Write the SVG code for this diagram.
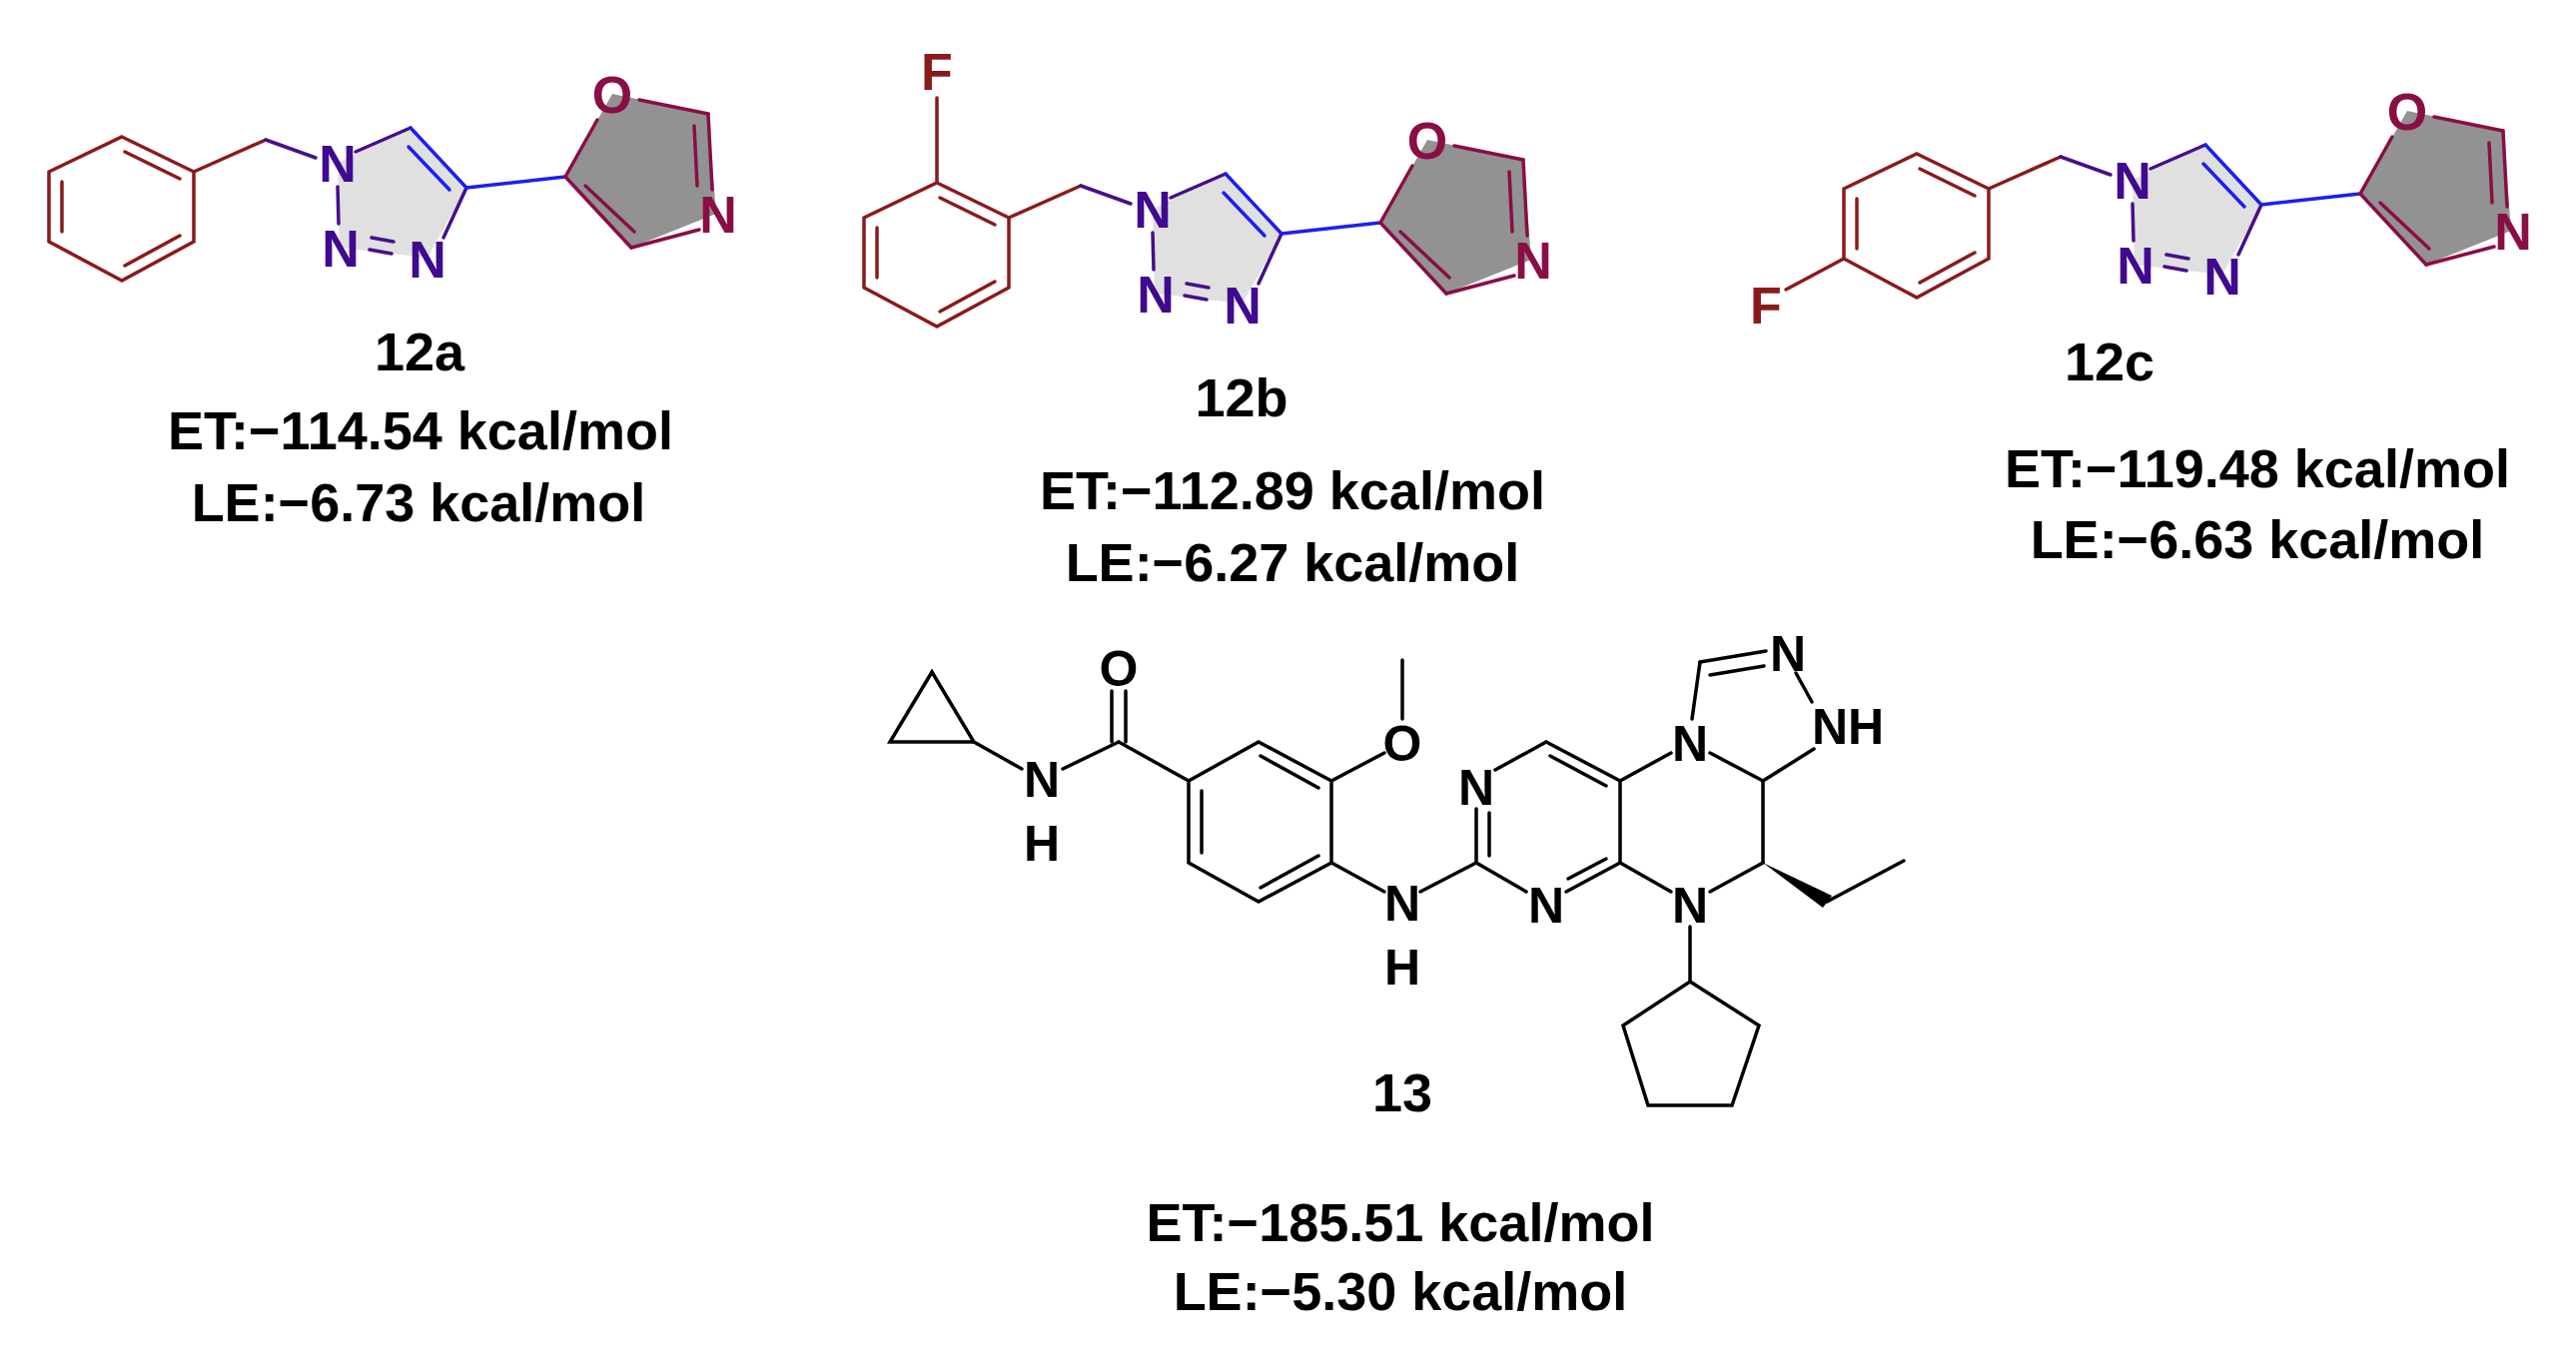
<svg xmlns="http://www.w3.org/2000/svg" xmlns:xlink="http://www.w3.org/1999/xlink" width="2579" height="1360" viewBox="0 0 2579 1360">
<style>
.r{stroke:#8B1A1A;stroke-width:3.5;fill:none;stroke-linecap:round}
.p{stroke:#45108C;stroke-width:3.5;fill:none;stroke-linecap:round}
.b{stroke:#1E1EF0;stroke-width:3.5;fill:none;stroke-linecap:round}
.m{stroke:#8B0D45;stroke-width:3.5;fill:none;stroke-linecap:round}
.k{stroke:#000;stroke-width:3.5;fill:none;stroke-linecap:round}
.an{font-family:"Liberation Sans",Arial,sans-serif;font-weight:bold;font-size:52px;text-anchor:middle;fill:#3F0A8F}
.ao{font-family:"Liberation Sans",Arial,sans-serif;font-weight:bold;font-size:52px;text-anchor:middle;fill:#8B0D45}
.af{font-family:"Liberation Sans",Arial,sans-serif;font-weight:bold;font-size:52px;text-anchor:middle;fill:#8B1A1A}
.ak{font-family:"Liberation Sans",Arial,sans-serif;font-weight:bold;font-size:50px;text-anchor:middle;fill:#000}
.t{font-family:"Liberation Sans",Arial,sans-serif;font-weight:bold;font-size:54px;text-anchor:middle;fill:#000}
</style>
<defs>
<g id="core12">
<polygon points="338,163 411,128 467,188 428,258 340,248" fill="#E0E0E0"/>
<polygon points="566,177 613,94 709,114 717,214 632,248" fill="#929292"/>
<polygon class="r" points="122,137 194,172 194,242 122,281 49,242 49,172"/>
<line class="r" x1="125" y1="152" x2="180" y2="179"/>
<line class="r" x1="62" y1="182" x2="62" y2="232"/>
<line class="r" x1="125" y1="266" x2="180" y2="236"/>
<line class="r" x1="194" y1="172" x2="266" y2="140"/>
<line class="p" x1="266" y1="140" x2="316" y2="158"/>
<line class="p" x1="356" y1="152" x2="411" y2="128"/>
<line class="b" x1="411" y1="128" x2="467" y2="188"/>
<line class="b" x1="409" y1="147" x2="450" y2="190"/>
<line class="p" x1="467" y1="188" x2="444" y2="238"/>
<line class="p" x1="338" y1="187" x2="339" y2="224"/>
<line class="p" x1="372" y1="238" x2="394" y2="242"/>
<line class="p" x1="370" y1="250" x2="392" y2="254"/>
<line class="b" x1="467" y1="188" x2="566" y2="177"/>
<line class="m" x1="566" y1="177" x2="598" y2="120"/>
<line class="m" x1="640" y1="100" x2="709" y2="114"/>
<line class="m" x1="709" y1="114" x2="713" y2="190"/>
<line class="m" x1="695" y1="126" x2="698" y2="186"/>
<line class="m" x1="700" y1="230" x2="632" y2="248"/>
<line class="m" x1="632" y1="248" x2="566" y2="177"/>
<line class="m" x1="586" y1="186" x2="635" y2="232"/>
<text class="an" x="338" y="182">N</text>
<text class="an" x="341" y="267">N</text>
<text class="an" x="428" y="278">N</text>
<text class="ao" x="613" y="113">O</text>
<text class="ao" x="719" y="233">N</text>
</g>
</defs>
<g id="c12a">
<use xlink:href="#core12"/>
<text class="t" x="420" y="371">12a</text>
<text class="t" x="421" y="450">ET:−114.54 kcal/mol</text>
<text class="t" x="419" y="522">LE:−6.73 kcal/mol</text>
</g>
<g id="c12b">
<use xlink:href="#core12" transform="translate(816,46)"/>
<line class="r" x1="938" y1="183" x2="938" y2="98"/>
<text class="af" x="938" y="90">F</text>
<text class="t" x="1243" y="417">12b</text>
<text class="t" x="1294" y="510">ET:−112.89 kcal/mol</text>
<text class="t" x="1294" y="582">LE:−6.27 kcal/mol</text>
</g>
<g id="c12c">
<use xlink:href="#core12" transform="translate(1797,17)"/>
<line class="r" x1="1846" y1="259" x2="1788" y2="290"/>
<text class="af" x="1768" y="324">F</text>
<text class="t" x="2112" y="381">12c</text>
<text class="t" x="2260" y="488">ET:−119.48 kcal/mol</text>
<text class="t" x="2260" y="559">LE:−6.63 kcal/mol</text>
</g>
<g id="c13">
<polygon class="k" points="933,673 891,743 975,743"/>
<line class="k" x1="975" y1="743" x2="1023" y2="770"/>
<line class="k" x1="1064" y1="770" x2="1120" y2="743"/>
<line class="k" x1="1113" y1="743" x2="1113" y2="692"/>
<line class="k" x1="1127" y1="743" x2="1127" y2="692"/>
<line class="k" x1="1120" y1="743" x2="1190" y2="782"/>
<polygon class="k" points="1190,782 1260,743 1333,782 1333,864 1260,903 1190,864"/>
<line class="k" x1="1262" y1="757" x2="1320" y2="789"/>
<line class="k" x1="1203" y1="792" x2="1203" y2="854"/>
<line class="k" x1="1262" y1="889" x2="1320" y2="857"/>
<line class="k" x1="1333" y1="782" x2="1386" y2="754"/>
<line class="k" x1="1404" y1="720" x2="1404" y2="661"/>
<line class="k" x1="1333" y1="864" x2="1386" y2="893"/>
<line class="k" x1="1422" y1="893" x2="1478" y2="864"/>
<line class="k" x1="1478" y1="864" x2="1478" y2="810"/>
<line class="k" x1="1491" y1="857" x2="1491" y2="814"/>
<line class="k" x1="1497" y1="771" x2="1548" y2="743"/>
<line class="k" x1="1548" y1="743" x2="1622" y2="782"/>
<line class="k" x1="1552" y1="757" x2="1608" y2="787"/>
<line class="k" x1="1622" y1="782" x2="1622" y2="864"/>
<line class="k" x1="1622" y1="864" x2="1568" y2="893"/>
<line class="k" x1="1608" y1="860" x2="1570" y2="880"/>
<line class="k" x1="1528" y1="893" x2="1478" y2="864"/>
<line class="k" x1="1622" y1="782" x2="1673" y2="754"/>
<line class="k" x1="1712" y1="754" x2="1765" y2="782"/>
<line class="k" x1="1765" y1="782" x2="1765" y2="864"/>
<line class="k" x1="1765" y1="864" x2="1712" y2="893"/>
<line class="k" x1="1673" y1="893" x2="1622" y2="864"/>
<line class="k" x1="1694" y1="720" x2="1702" y2="663"/>
<line class="k" x1="1702" y1="663" x2="1768" y2="652"/>
<line class="k" x1="1712" y1="676" x2="1766" y2="667"/>
<line class="k" x1="1798" y1="674" x2="1814" y2="703"/>
<line class="k" x1="1816" y1="750" x2="1765" y2="782"/>
<polygon points="1765,864 1834,897 1825,909" fill="#000"/>
<line class="k" x1="1829" y1="903" x2="1906" y2="862"/>
<line class="k" x1="1692" y1="928" x2="1692" y2="983"/>
<polygon class="k" points="1692,983 1761,1027 1734,1107 1650,1107 1625,1027"/>
<text class="ak" x="1120" y="687">O</text>
<text class="ak" x="1043" y="798">N</text>
<text class="ak" x="1043" y="862">H</text>
<text class="ak" x="1404" y="762">O</text>
<text class="ak" x="1404" y="922">N</text>
<text class="ak" x="1404" y="986">H</text>
<text class="ak" x="1478" y="806">N</text>
<text class="ak" x="1548" y="924">N</text>
<text class="ak" x="1692" y="762">N</text>
<text class="ak" x="1692" y="924">N</text>
<text class="ak" x="1790" y="672">N</text>
<text class="ak" x="1850" y="745">NH</text>
<text class="t" x="1404" y="1113">13</text>
<text class="t" x="1402" y="1243">ET:−185.51 kcal/mol</text>
<text class="t" x="1402" y="1312">LE:−5.30 kcal/mol</text>
</g>
</svg>
